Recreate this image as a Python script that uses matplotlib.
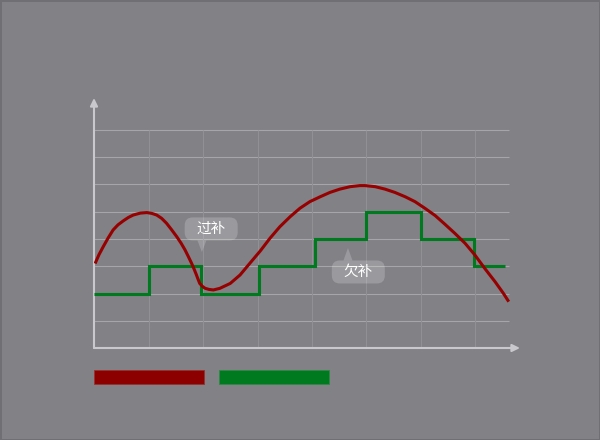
import matplotlib
matplotlib.use("Agg")
import matplotlib.pyplot as plt
from matplotlib.patches import FancyBboxPatch, Polygon, Rectangle

plt.rcParams['font.family'] = ['Noto Sans CJK SC', 'DejaVu Sans']

# red curve (x in grid columns, y in grid rows)
curve_x = [0.02, 0.09, 0.17, 0.26, 0.35, 0.44, 0.54, 0.63, 0.72, 0.85, 0.97, 1.06,
           1.15, 1.24, 1.33, 1.42, 1.52, 1.60, 1.67, 1.73, 1.79, 1.84, 1.88, 1.91,
           1.94, 1.99, 2.04, 2.11, 2.19, 2.31, 2.50, 2.68, 2.86, 3.05, 3.23, 3.41,
           3.60, 3.78, 3.96, 4.15, 4.33, 4.51, 4.70, 4.88, 4.97, 5.16, 5.34, 5.52,
           5.71, 5.89, 6.07, 6.26, 6.44, 6.62, 6.81, 6.99, 7.17, 7.36, 7.51, 7.61]
curve_y = [3.10, 3.42, 3.72, 4.04, 4.33, 4.52, 4.67, 4.79, 4.88, 4.95, 4.97, 4.94,
           4.88, 4.76, 4.58, 4.35, 4.08, 3.84, 3.60, 3.36, 3.11, 2.88, 2.68, 2.52,
           2.37, 2.26, 2.19, 2.15, 2.13, 2.19, 2.37, 2.68, 3.11, 3.56, 4.03, 4.45,
           4.82, 5.13, 5.37, 5.55, 5.71, 5.83, 5.92, 5.96, 5.96, 5.92, 5.83, 5.71,
           5.55, 5.37, 5.13, 4.86, 4.54, 4.21, 3.84, 3.41, 2.92, 2.43, 2.01, 1.70]

# green step line
step_edges = [0, 1.0, 1.96, 3.02, 4.05, 5.0, 6.0, 6.97, 7.54]
step_levels = [2, 3, 2, 3, 4, 5, 4, 3]

# callouts: label, text centre, pointer tip
callout_labels = ["过补", "欠补"]
callout_centers = [(2.15, 4.37), (4.85, 2.79)]
callout_tips = [(1.98, 3.52), (4.66, 3.67)]

bg = "#818186"
red = "#960000"
green = "#007a1f"

fig = plt.figure(figsize=(6, 4.4), dpi=100)
fig.patch.set_facecolor(bg)
fig.patch.set_edgecolor("#707074")
fig.patch.set_linewidth(1.0)

px_x, px_y = 54.5, 27.25  # pixels per unit
ax = fig.add_axes([94 / 600, 92 / 440, 426 / 600, 250 / 440])
ax.set_xlim(0, 426 / px_x)
ax.set_ylim(0, 250 / px_y)
ax.set_axis_off()

# grid
ax.hlines(range(1, 9), 0, 7.61, color="#a6a6aa", lw=0.8, zorder=1)
ax.vlines(range(1, 8), 0, 8, color="#919195", lw=0.8, zorder=1)

# axes with arrows
axc = "#c9c9cd"
arrow = dict(arrowstyle="-|>,head_length=0.45,head_width=0.22", color=axc, lw=1.5,
             shrinkA=0, shrinkB=0)
ax.annotate("", xy=(0, 250 / px_y), xytext=(0, 0), arrowprops=arrow, zorder=3)
ax.annotate("", xy=(426 / px_x, 0), xytext=(0, 0), arrowprops=arrow, zorder=3)

# series
ax.plot(curve_x, curve_y, color=red, lw=2.2, zorder=5, solid_capstyle="butt",
        solid_joinstyle="round")
ax.stairs(step_levels, step_edges, color=green, lw=2.2, baseline=None, zorder=4)

# callouts
bw, bh = 53 / px_x, 23 / px_y
for label, (cx, cy), (tx, ty) in zip(callout_labels, callout_centers, callout_tips):
    box = FancyBboxPatch((cx - bw / 2, cy - bh / 2), bw, bh,
                         boxstyle="round,pad=0,rounding_size=%f" % (8 / px_x),
                         mutation_aspect=px_x / px_y,
                         fc="white", alpha=0.2, ec="none", zorder=6)
    ax.add_patch(box)
    edge = cy - bh / 2 if ty < cy else cy + bh / 2
    half = 4.5 / px_x
    ax.add_patch(Polygon([(tx - half, edge), (tx + half, edge), (tx, ty)],
                         closed=True, fc="white", alpha=0.2, ec="none", zorder=6))
    ax.text(cx, cy, label, color="white", fontsize=10.5, ha="center", va="center",
            zorder=7)

# legend bars (no text)
ax.add_patch(Rectangle((0, -36 / px_y), 110 / px_x, 14 / px_y, fc="#8c0000",
                       ec="#9a3030", lw=0.6, clip_on=False))
ax.add_patch(Rectangle((124.7 / px_x, -36 / px_y), 110 / px_x, 14 / px_y, fc=green,
                       ec="#2e8a45", lw=0.6, clip_on=False))

fig.savefig("out.png", dpi=100, facecolor=fig.get_facecolor(),
            edgecolor=fig.get_edgecolor())
